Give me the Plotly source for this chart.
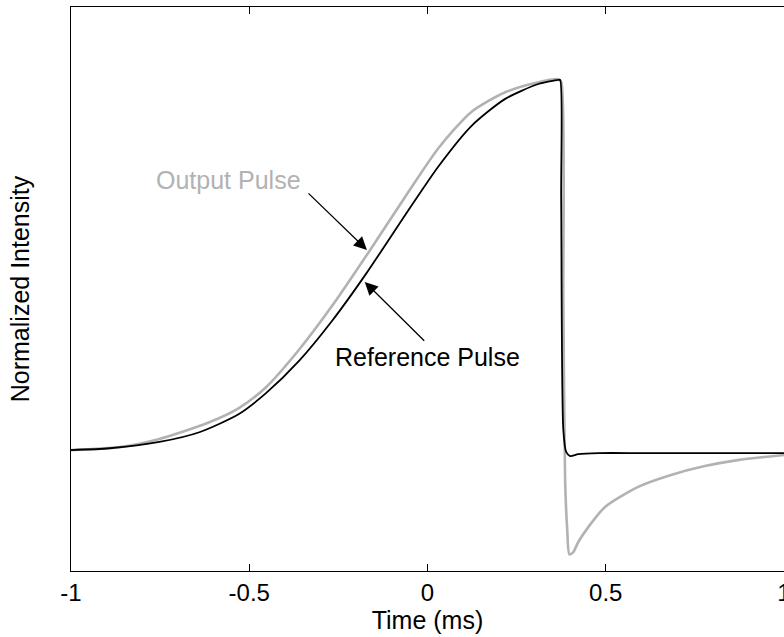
import plotly.graph_objects as go

# Reference pulse (black)
ref_t = [-1.0, -0.892, -0.752, -0.640, -0.529, -0.453, -0.361, -0.268, -0.173, -0.061,
         0.031, 0.123, 0.218, 0.311, 0.367, 0.372, 0.375, 0.381, 0.389, 0.400, 0.423,
         0.48, 0.60, 0.758, 1.0]
ref_v = [0.0, 0.005, 0.022, 0.048, 0.097, 0.153, 0.239, 0.347, 0.473, 0.634,
         0.763, 0.871, 0.944, 0.984, 0.995, 0.995, 0.677, 0.054, -0.005, -0.016, -0.011,
         -0.008, -0.008, -0.008, -0.008]

# Output pulse (grey)
out_t = [-1.0, -0.864, -0.752, -0.612, -0.529, -0.453, -0.361, -0.268, -0.165, -0.061,
         0.031, 0.123, 0.218, 0.311, 0.367, 0.375, 0.381, 0.386, 0.392, 0.398, 0.409,
         0.423, 0.451, 0.498, 0.591, 0.683, 0.778, 0.870, 1.0]
out_v = [0.0, 0.008, 0.030, 0.075, 0.113, 0.169, 0.269, 0.387, 0.532, 0.683,
         0.812, 0.909, 0.962, 0.989, 0.997, 0.990, 0.403, -0.081, -0.215, -0.280, -0.274,
         -0.247, -0.207, -0.153, -0.099, -0.067, -0.043, -0.027, -0.013]

x_ticks = [-1, -0.5, 0, 0.5, 1]
x_tick_labels = ["-1", "-0.5", "0", "0.5", "1"]

FONT = "Liberation Sans, Arial, sans-serif"
FS = 24
FT = 25

fig = go.Figure()
fig.add_trace(go.Scatter(x=out_t, y=out_v, mode="lines",
                         line=dict(color="#b2b2b2", width=2.6, shape="spline", smoothing=0.7),
                         name="Output Pulse", showlegend=False))
fig.add_trace(go.Scatter(x=ref_t, y=ref_v, mode="lines",
                         line=dict(color="#000000", width=1.8, shape="spline", smoothing=0.7),
                         name="Reference Pulse", showlegend=False))

# arrows
fig.add_annotation(x=-0.170, y=0.538, ax=-0.338, ay=0.694, xref="x", yref="y",
                   axref="x", ayref="y", text="", showarrow=True,
                   arrowhead=2, arrowsize=2.0, arrowwidth=1.3, arrowcolor="black")
fig.add_annotation(x=-0.176, y=0.452, ax=-0.005, ay=0.290, xref="x", yref="y",
                   axref="x", ayref="y", text="", showarrow=True,
                   arrowhead=2, arrowsize=2.0, arrowwidth=1.3, arrowcolor="black")
# labels
fig.add_annotation(x=-0.557, y=0.726, xref="x", yref="y", text="Output Pulse",
                   showarrow=False, font=dict(family=FONT, size=FT, color="#b2b2b2"))
fig.add_annotation(x=-0.001, y=0.25, xref="x", yref="y", text="Reference Pulse",
                   showarrow=False, font=dict(family=FONT, size=FT, color="black"))

fig.update_layout(
    width=784, height=637,
    margin=dict(l=71, r=0, t=7, b=66),
    paper_bgcolor="white", plot_bgcolor="white",
    font=dict(family=FONT, size=FS, color="black"),
    xaxis=dict(range=[-1, 1], tickvals=x_ticks, ticktext=x_tick_labels,
               showgrid=False, zeroline=False, showline=True, linecolor="black",
               linewidth=1.3, mirror="ticks", ticks="inside", ticklen=7,
               tickcolor="black", tickwidth=1.3, ticklabeloverflow="allow",
               automargin=False,
               tickfont=dict(family=FONT, size=FS),
               title=dict(text="Time (ms)", standoff=6, font=dict(family=FONT, size=FT))),
    yaxis=dict(range=[-0.325, 1.191], showgrid=False, zeroline=False,
               showline=True, linecolor="black", linewidth=1.3, mirror=False,
               showticklabels=False, ticks="", automargin=False,
               title=dict(text="Normalized Intensity", standoff=33,
                          font=dict(family=FONT, size=FT))),
)

fig.write_html("out.html")
